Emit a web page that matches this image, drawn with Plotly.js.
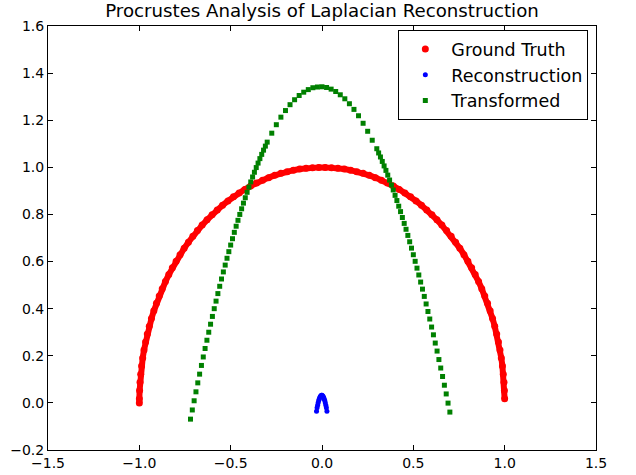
<!DOCTYPE html>
<html>
<head>
<meta charset="utf-8">
<script src="https://cdn.plot.ly/plotly-3.0.1.min.js"></script>
<style>html,body{margin:0;padding:0;background:#fff;}#chart{width:636px;height:475px;}</style>
</head>
<body>
<div id="chart"></div>
<script>
// Ground truth: points on the half circle
const gtX = [0.9998,0.9986,0.9962,0.9925,0.9877,0.9816,0.9744,0.9659,0.9563,0.9455,0.9336,0.9205,0.9063,0.8910,0.8746,0.8572,0.8387,0.8192,0.7986,0.7771,0.7547,0.7314,0.7071,0.6820,0.6561,0.6293,0.6018,0.5736,0.5446,0.5150,0.4848,0.4540,0.4226,0.3907,0.3584,0.3256,0.2924,0.2588,0.2250,0.1908,0.1564,0.1219,0.0872,0.0523,0.0175,
  -0.0175,-0.0523,-0.0872,-0.1219,-0.1564,-0.1908,-0.2250,-0.2588,-0.2924,-0.3256,-0.3584,-0.3907,-0.4226,-0.4540,-0.4848,-0.5150,-0.5446,-0.5736,-0.6018,-0.6293,-0.6561,-0.6820,-0.7071,-0.7314,-0.7547,-0.7771,-0.7986,-0.8192,-0.8387,-0.8572,-0.8746,-0.8910,-0.9063,-0.9205,-0.9336,-0.9455,-0.9563,-0.9659,-0.9744,-0.9816,-0.9877,-0.9925,-0.9962,-0.9986,-0.9998,-1.0];
const gtY = [0.0175,0.0523,0.0872,0.1219,0.1564,0.1908,0.2250,0.2588,0.2924,0.3256,0.3584,0.3907,0.4226,0.4540,0.4848,0.5150,0.5446,0.5736,0.6018,0.6293,0.6561,0.6820,0.7071,0.7314,0.7547,0.7771,0.7986,0.8192,0.8387,0.8572,0.8746,0.8910,0.9063,0.9205,0.9336,0.9455,0.9563,0.9659,0.9744,0.9816,0.9877,0.9925,0.9962,0.9986,0.9998,
  0.9998,0.9986,0.9962,0.9925,0.9877,0.9816,0.9744,0.9659,0.9563,0.9455,0.9336,0.9205,0.9063,0.8910,0.8746,0.8572,0.8387,0.8192,0.7986,0.7771,0.7547,0.7314,0.7071,0.6820,0.6561,0.6293,0.6018,0.5736,0.5446,0.5150,0.4848,0.4540,0.4226,0.3907,0.3584,0.3256,0.2924,0.2588,0.2250,0.1908,0.1564,0.1219,0.0872,0.0523,0.0175,0.0];

// Reconstruction: tiny arch near the origin
const recX = [-0.030,-0.027,-0.024,-0.021,-0.018,-0.015,-0.012,-0.009,-0.006,-0.003,0.000,0.003,0.006,0.009,0.012,0.015,0.018,0.021,0.024,0.027];
const recY = [-0.035,-0.021,-0.010,0.001,0.010,0.017,0.023,0.027,0.030,0.032,0.032,0.030,0.027,0.023,0.017,0.010,0.001,-0.010,-0.021,-0.035];

// Transformed reconstruction
const trX = [-0.72,-0.71,-0.70,-0.69,-0.68,-0.67,-0.66,-0.65,-0.64,-0.63,-0.62,-0.61,-0.60,-0.59,-0.58,-0.57,-0.56,-0.55,-0.54,-0.53,-0.52,-0.51,-0.50,-0.49,-0.48,-0.47,-0.46,-0.45,-0.44,-0.43,-0.42,-0.41,-0.40,-0.39,-0.38,-0.37,-0.36,-0.35,-0.34,-0.33,-0.32,-0.31,-0.30,
  -0.275,-0.25,-0.225,-0.20,-0.175,-0.15,-0.125,-0.10,-0.075,-0.05,-0.025,0.0,0.025,0.05,0.075,0.10,0.125,0.15,0.175,0.20,0.225,0.25,0.275,
  0.30,0.31,0.32,0.33,0.34,0.35,0.36,0.37,0.38,0.39,0.40,0.41,0.42,0.43,0.44,0.45,0.46,0.47,0.48,0.49,0.50,0.51,0.52,0.53,0.54,0.55,0.56,0.57,0.58,0.59,0.60,0.61,0.62,0.63,0.64,0.65,0.66,0.67,0.68,0.69,0.70];
const trY = [-0.069,-0.030,0.009,0.047,0.085,0.122,0.159,0.195,0.231,0.266,0.300,0.334,0.367,0.400,0.432,0.464,0.495,0.526,0.556,0.585,0.614,0.642,0.670,0.697,0.724,0.750,0.775,0.800,0.824,0.848,0.871,0.894,0.916,0.938,0.959,0.979,0.999,1.018,1.037,1.055,1.073,1.090,1.107,
  1.145,1.181,1.213,1.241,1.266,1.287,1.305,1.319,1.330,1.338,1.341,1.342,1.339,1.332,1.322,1.308,1.291,1.270,1.246,1.219,1.187,1.153,1.115,
  1.079,1.061,1.044,1.025,1.006,0.987,0.967,0.946,0.925,0.904,0.881,0.859,0.835,0.812,0.787,0.762,0.737,0.711,0.684,0.657,0.629,0.601,0.572,0.543,0.513,0.483,0.452,0.420,0.388,0.356,0.322,0.289,0.254,0.220,0.184,0.148,0.112,0.075,0.038,-0.001,-0.039];

const xTicks = [-1.5,-1.0,-0.5,0.0,0.5,1.0,1.5];
const yTicks = [-0.2,0.0,0.2,0.4,0.6,0.8,1.0,1.2,1.4,1.6];

const data = [
  {x: gtX, y: gtY, mode: 'lines', line: {color: '#ff0000', width: 6}, showlegend: false, hoverinfo: 'skip'},
  {x: gtX, y: gtY, mode: 'markers', name: 'Ground Truth', marker: {color: '#ff0000', size: 7}},
  {x: recX, y: recY, mode: 'markers', name: 'Reconstruction', marker: {color: '#0000ff', size: 5}},
  {x: trX, y: trY, mode: 'markers', name: 'Transformed', marker: {color: '#008000', size: 5, symbol: 'square'}}
];

const axisCommon = {
  showgrid: false, zeroline: false, showline: true, linecolor: '#000', linewidth: 1,
  mirror: 'ticks', ticks: 'inside', ticklen: 5, tickcolor: '#000', tickwidth: 1,
  tickfont: {family: 'DejaVu Sans', size: 14, color: '#000'}, tickformat: '.1f'
};

const layout = {
  width: 636, height: 475,
  margin: {l: 48, r: 40, t: 26, b: 25, pad: 0},
  paper_bgcolor: '#fff', plot_bgcolor: '#fff',
  title: {text: 'Procrustes Analysis of Laplacian Reconstruction', font: {family: 'DejaVu Sans', size: 18.2, color: '#000'},
          x: 0.5, xref: 'paper', xanchor: 'center', y: 0.977, yref: 'container', yanchor: 'middle'},
  xaxis: Object.assign({}, axisCommon, {range: [-1.5, 1.5], tickvals: xTicks}),
  yaxis: Object.assign({}, axisCommon, {range: [-0.2, 1.6], tickvals: yTicks}),
  legend: {x: 0.986, xanchor: 'right', y: 0.884, yanchor: 'middle', bordercolor: '#000', borderwidth: 1, bgcolor: '#fff',
           itemwidth: 42, font: {family: 'DejaVu Sans', size: 17.5, color: '#000'}},
  showlegend: true
};

Plotly.newPlot('chart', data, layout, {displayModeBar: false, staticPlot: true});
</script>
</body>
</html>
